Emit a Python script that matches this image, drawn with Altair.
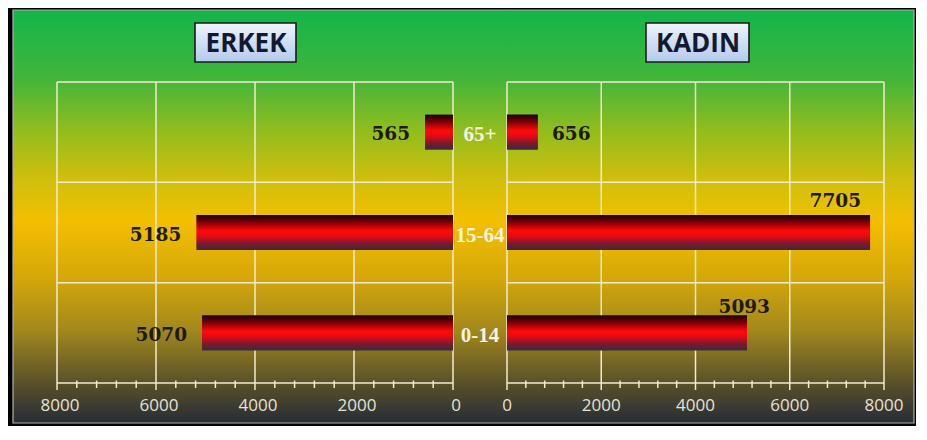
import altair as alt
import pandas as pd

# ---- data ----
categories = ["65+", "15-64", "0-14"]
erkek = [565, 5185, 5070]
kadin = [656, 7705, 5093]
major_ticks = [0, 2000, 4000, 6000, 8000]
minor_ticks = [v for v in range(0, 8001, 400) if v % 2000 != 0]
panel_titles = ["ERKEK", "KADIN"]

W, H = 908, 418

df = pd.DataFrame({"cat": categories, "erkek": erkek, "kadin": kadin})
hgrid = pd.DataFrame({"cat": categories, "lo": [0] * 3, "hi": [8000] * 3})
axis_df = pd.DataFrame({"lo": [0], "hi": [8000]})
major = pd.DataFrame({"t": major_ticks})
minor = pd.DataFrame({"t": minor_ticks})
one = pd.DataFrame({"a": [0]})

LS = alt.Scale(domain=[0, 8000], range=[445, 49])
RS = alt.Scale(domain=[0, 8000], range=[499, 876])
YS = alt.Scale(domain=categories, range=[74, 375], paddingInner=0, paddingOuter=0)

GRID = "#f1ebcf"

BG_GRAD = {
    "gradient": "linear", "x1": 0, "y1": 0, "x2": 0, "y2": 1,
    "stops": [
        {"offset": 0.0, "color": "#12b54c"},
        {"offset": 0.17, "color": "#44b53a"},
        {"offset": 0.29, "color": "#90bd1e"},
        {"offset": 0.41, "color": "#d0bf0c"},
        {"offset": 0.51, "color": "#f3bf00"},
        {"offset": 0.65, "color": "#d4a70a"},
        {"offset": 0.775, "color": "#a2881c"},
        {"offset": 0.895, "color": "#5e5428"},
        {"offset": 1.0, "color": "#262c36"},
    ],
}

BAR_GRAD = {
    "gradient": "linear", "x1": 0, "y1": 0, "x2": 0, "y2": 1,
    "stops": [
        {"offset": 0.0, "color": "#1a0000"},
        {"offset": 0.2, "color": "#7a0006"},
        {"offset": 0.45, "color": "#ff0a0a"},
        {"offset": 0.6, "color": "#e80a14"},
        {"offset": 0.8, "color": "#82182c"},
        {"offset": 1.0, "color": "#3a2a40"},
    ],
}

BOX_GRAD = {
    "gradient": "linear", "x1": 0, "y1": 0, "x2": 0, "y2": 1,
    "stops": [
        {"offset": 0.0, "color": "#eef4fc"},
        {"offset": 1.0, "color": "#b3caee"},
    ],
}

base = alt.Chart(df)

bg = alt.Chart(one).mark_rect(fill=BG_GRAD, stroke="#b0b0b0", strokeWidth=1.2).encode(
    x=alt.value(5), x2=alt.value(906), y=alt.value(2), y2=alt.value(415)
)

# title boxes
def title_box(x0, x1, text, xc):
    box = alt.Chart(one).mark_rect(fill=BOX_GRAD, stroke="#1a1a1a", strokeWidth=1.6).encode(
        x=alt.value(x0), x2=alt.value(x1), y=alt.value(15), y2=alt.value(54)
    )
    txt = alt.Chart(one).mark_text(
        font="Open Sans", fontWeight="bold", fontSize=26, color="#111a30",
        align="center", baseline="middle"
    ).encode(x=alt.value(xc), y=alt.value(35.5), text=alt.value(text))
    return [box, txt]

titles_l = title_box(187, 288, panel_titles[0], 238)
titles_r = title_box(638, 741, panel_titles[1], 690)

layers = [bg] + titles_l + titles_r

for S in (LS, RS):
    # vertical grid lines (extend slightly below axis as major ticks)
    layers.append(
        alt.Chart(major).mark_rule(color=GRID, strokeWidth=1.5).encode(
            x=alt.X("t:Q", scale=S, axis=None),
            y=alt.value(74), y2=alt.value(382),
        )
    )
    # horizontal grid lines at band boundaries
    layers.append(
        alt.Chart(hgrid).mark_rule(color=GRID, strokeWidth=1.5).encode(
            x=alt.X("lo:Q", scale=S, axis=None),
            x2="hi:Q",
            y=alt.Y("cat:N", scale=YS, axis=None, bandPosition=0),
        )
    )
    # axis line
    layers.append(
        alt.Chart(axis_df).mark_rule(color=GRID, strokeWidth=1.5).encode(
            x=alt.X("lo:Q", scale=S, axis=None),
            x2="hi:Q",
            y=alt.value(375),
        )
    )
    # minor ticks
    layers.append(
        alt.Chart(minor).mark_rule(color=GRID, strokeWidth=1.5).encode(
            x=alt.X("t:Q", scale=S, axis=None),
            y=alt.value(372.5), y2=alt.value(380),
        )
    )
    # tick labels
    layers.append(
        alt.Chart(major).mark_text(
            font="Open Sans", fontSize=17, color="#e6e2d6",
            align="center", baseline="middle", dx=3 if S is LS else 0
        ).encode(
            x=alt.X("t:Q", scale=S, axis=None),
            y=alt.value(398),
            text=alt.Text("t:Q", format="d"),
        )
    )

# bars
layers.append(
    base.mark_bar(fill=BAR_GRAD, height={"band": 0.35}).encode(
        x=alt.X("erkek:Q", scale=LS, axis=None),
        y=alt.Y("cat:N", scale=YS, axis=None),
    )
)
layers.append(
    base.mark_bar(fill=BAR_GRAD, height={"band": 0.35}).encode(
        x=alt.X("kadin:Q", scale=RS, axis=None),
        y=alt.Y("cat:N", scale=YS, axis=None),
    )
)

VAL = dict(font="DejaVu Serif", fontWeight="bold", fontSize=18.5, color="#1b1b12")

# left value labels
layers.append(
    base.mark_text(align="right", baseline="middle", dx=-15, dy=2, **VAL).encode(
        x=alt.X("erkek:Q", scale=LS, axis=None),
        y=alt.Y("cat:N", scale=YS, axis=None),
        text=alt.Text("erkek:Q", format="d"),
    )
)
# right value labels
layers.append(
    base.transform_filter(alt.datum.cat == "65+").mark_text(
        align="left", baseline="middle", dx=14, dy=2, **VAL
    ).encode(
        x=alt.X("kadin:Q", scale=RS, axis=None),
        y=alt.Y("cat:N", scale=YS, axis=None),
        text=alt.Text("kadin:Q", format="d"),
    )
)
layers.append(
    base.transform_filter(alt.datum.cat == "15-64").mark_text(
        align="right", baseline="alphabetic", dx=-9, dy=-25.5, **VAL
    ).encode(
        x=alt.X("kadin:Q", scale=RS, axis=None),
        y=alt.Y("cat:N", scale=YS, axis=None),
        text=alt.Text("kadin:Q", format="d"),
    )
)
layers.append(
    base.transform_filter(alt.datum.cat == "0-14").mark_text(
        align="right", baseline="alphabetic", dx=23, dy=-20, **VAL
    ).encode(
        x=alt.X("kadin:Q", scale=RS, axis=None),
        y=alt.Y("cat:N", scale=YS, axis=None),
        text=alt.Text("kadin:Q", format="d"),
    )
)

# category labels in the middle
layers.append(
    base.mark_text(
        font="Liberation Serif", fontWeight="bold", fontSize=21, color="#f7f2e2",
        align="center", baseline="middle", dy=3
    ).encode(
        x=alt.value(472),
        y=alt.Y("cat:N", scale=YS, axis=None),
        text="cat:N",
    )
)

chart = (
    alt.layer(*layers)
    .resolve_scale(x="independent")
    .properties(
        width=W, height=H, background="black", padding=0,
        autosize=alt.AutoSizeParams(type="none"),
    )
    .configure_view(stroke=None)
)

chart.save("out.html", embed_options={"renderer": "svg", "actions": False})
